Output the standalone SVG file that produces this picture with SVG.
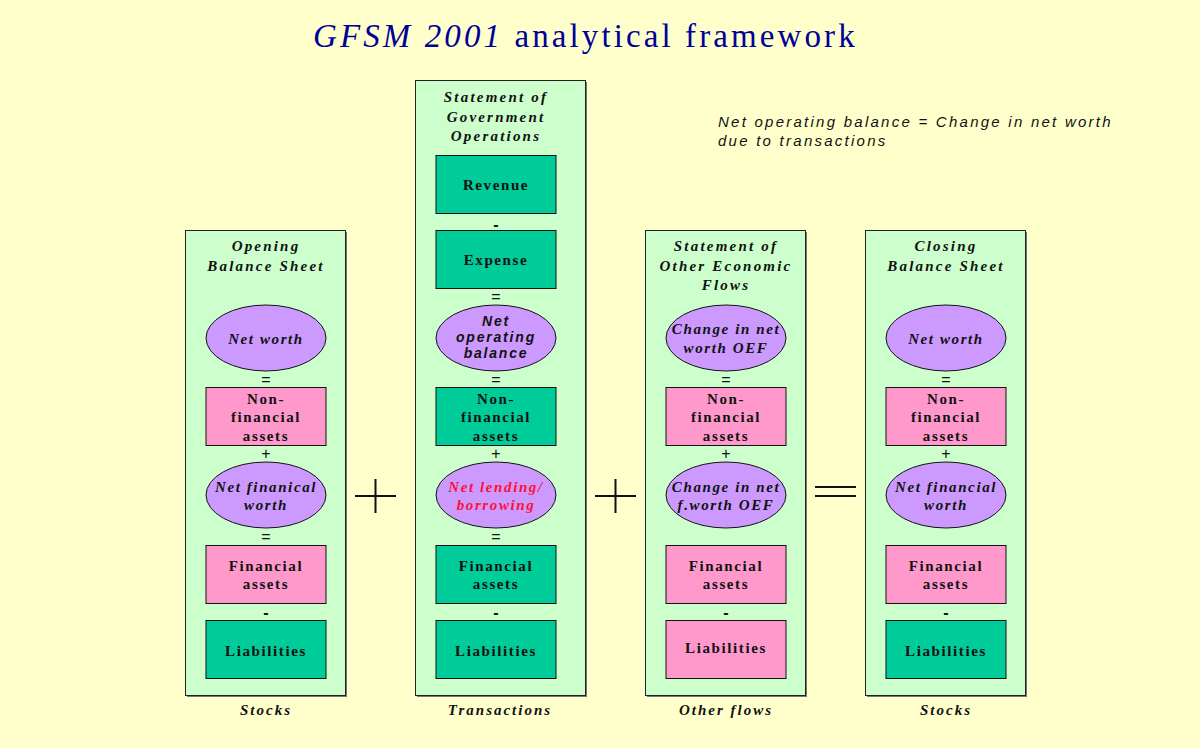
<svg xmlns="http://www.w3.org/2000/svg" width="1200" height="748" viewBox="0 0 1200 748">
<defs>
<style>
.bg{fill:#FFFFCC}
.col{fill:#CCFFCC;stroke:#222;stroke-width:1}
.shd{fill:#777}
.teal{fill:#00CC99;stroke:#111;stroke-width:1}
.pink{fill:#FF99CC;stroke:#111;stroke-width:1}
.ell{fill:#CC99FF;stroke:#111;stroke-width:1}
.ct{font-family:"Liberation Serif",serif;font-weight:bold;font-style:italic;font-size:15px;letter-spacing:2.2px;fill:#111;text-anchor:middle}
.bt{font-family:"Liberation Serif",serif;font-weight:bold;font-size:15px;letter-spacing:1.6px;fill:#111;text-anchor:middle}
.et{font-family:"Liberation Serif",serif;font-weight:bold;font-style:italic;font-size:15px;letter-spacing:1.6px;fill:#111;text-anchor:middle}
.es{font-family:"Liberation Sans",sans-serif;font-weight:bold;font-style:italic;font-size:14px;letter-spacing:1.8px;fill:#111;text-anchor:middle}
.red{fill:#FF1133}
.op{font-family:"Liberation Sans",sans-serif;font-size:16px;fill:#111;text-anchor:middle}
.ft{font-family:"Liberation Serif",serif;font-weight:bold;font-style:italic;font-size:15px;letter-spacing:2px;fill:#111;text-anchor:middle}
.big{stroke:#111;stroke-width:2;fill:none}
</style>
</defs>
<rect class="bg" x="0" y="0" width="1200" height="748"/>
<text x="313" y="47" font-family="Liberation Serif, serif" font-size="33" letter-spacing="3.1" fill="#000099"><tspan font-style="italic">GFSM 2001</tspan> analytical framework</text>
<text font-family="Liberation Sans, sans-serif" font-style="italic" font-size="15" letter-spacing="2.25" fill="#111"><tspan x="718" y="127">Net operating balance = Change in net worth</tspan><tspan x="718" y="146">due to transactions</tspan></text>

<g id="col-opening">
<rect class="shd" x="187" y="232" width="160" height="465"/>
<rect class="col" x="185.5" y="230.5" width="160" height="465"/>
<text class="ct"><tspan x="266" y="251">Opening</tspan><tspan x="266" y="271">Balance Sheet</tspan></text>
<g id="o-networth"><ellipse class="ell" cx="266" cy="338" rx="60" ry="33"/><text class="et" x="266" y="344">Net worth</text></g>
<text class="op" x="266" y="385">=</text>
<g id="o-nfa"><rect class="pink" x="206" y="387.5" width="120" height="58"/><text class="bt"><tspan x="266" y="404">Non-</tspan><tspan x="266" y="422">financial</tspan><tspan x="266" y="441">assets</tspan></text></g>
<text class="op" x="266" y="459">+</text>
<g id="o-nfw"><ellipse class="ell" cx="266" cy="495" rx="60" ry="33"/><text class="et"><tspan x="266" y="492">Net finanical</tspan><tspan x="266" y="510">worth</tspan></text></g>
<text class="op" x="266" y="542">=</text>
<g id="o-fa"><rect class="pink" x="206" y="545.5" width="120" height="58"/><text class="bt"><tspan x="266" y="571">Financial</tspan><tspan x="266" y="589">assets</tspan></text></g>
<text class="op" x="266" y="618" font-weight="bold">-</text>
<g id="o-liab"><rect class="teal" x="206" y="620.5" width="120" height="58"/><text class="bt" x="266" y="656">Liabilities</text></g>
<text class="ft" x="266" y="715">Stocks</text>
</g>

<g id="col-transactions">
<rect class="shd" x="417" y="82" width="170" height="615"/>
<rect class="col" x="415.5" y="80.5" width="170" height="615"/>
<text class="ct"><tspan x="496" y="102">Statement of</tspan><tspan x="496" y="122">Government</tspan><tspan x="496" y="141">Operations</tspan></text>
<g id="t-rev"><rect class="teal" x="436" y="155.5" width="120" height="58"/><text class="bt" x="496" y="190">Revenue</text></g>
<text class="op" x="496" y="230" font-weight="bold">-</text>
<g id="t-exp"><rect class="teal" x="436" y="230.5" width="120" height="58"/><text class="bt" x="496" y="265">Expense</text></g>
<text class="op" x="496" y="302">=</text>
<g id="t-nob"><ellipse class="ell" cx="496" cy="338" rx="60" ry="33"/><text class="es"><tspan x="496" y="326">Net</tspan><tspan x="496" y="342">operating</tspan><tspan x="496" y="358">balance</tspan></text></g>
<text class="op" x="496" y="385">=</text>
<g id="t-nfa"><rect class="teal" x="436" y="387.5" width="120" height="58"/><text class="bt"><tspan x="496" y="404">Non-</tspan><tspan x="496" y="422">financial</tspan><tspan x="496" y="441">assets</tspan></text></g>
<text class="op" x="496" y="459">+</text>
<g id="t-nlb"><ellipse class="ell" cx="496" cy="495" rx="60" ry="33"/><text class="et red"><tspan x="496" y="492">Net lending/</tspan><tspan x="496" y="510">borrowing</tspan></text></g>
<text class="op" x="496" y="542">=</text>
<g id="t-fa"><rect class="teal" x="436" y="545.5" width="120" height="58"/><text class="bt"><tspan x="496" y="571">Financial</tspan><tspan x="496" y="589">assets</tspan></text></g>
<text class="op" x="496" y="618" font-weight="bold">-</text>
<g id="t-liab"><rect class="teal" x="436" y="620.5" width="120" height="58"/><text class="bt" x="496" y="656">Liabilities</text></g>
<text class="ft" x="500" y="715">Transactions</text>
</g>

<g id="col-oef">
<rect class="shd" x="647" y="232" width="160" height="465"/>
<rect class="col" x="645.5" y="230.5" width="160" height="465"/>
<text class="ct"><tspan x="726" y="251">Statement of</tspan><tspan x="726" y="271">Other Economic</tspan><tspan x="726" y="290">Flows</tspan></text>
<g id="f-cnw"><ellipse class="ell" cx="726" cy="338" rx="60" ry="33"/><text class="et"><tspan x="726" y="334">Change in net</tspan><tspan x="726" y="353">worth OEF</tspan></text></g>
<text class="op" x="726" y="385">=</text>
<g id="f-nfa"><rect class="pink" x="666" y="387.5" width="120" height="58"/><text class="bt"><tspan x="726" y="404">Non-</tspan><tspan x="726" y="422">financial</tspan><tspan x="726" y="441">assets</tspan></text></g>
<text class="op" x="726" y="459">+</text>
<g id="f-cnfw"><ellipse class="ell" cx="726" cy="495" rx="60" ry="33"/><text class="et"><tspan x="726" y="492">Change in net</tspan><tspan x="726" y="510">f.worth OEF</tspan></text></g>
<g id="f-fa"><rect class="pink" x="666" y="545.5" width="120" height="58"/><text class="bt"><tspan x="726" y="571">Financial</tspan><tspan x="726" y="589">assets</tspan></text></g>
<text class="op" x="726" y="618" font-weight="bold">-</text>
<g id="f-liab"><rect class="pink" x="666" y="620.5" width="120" height="58"/><text class="bt" x="726" y="653">Liabilities</text></g>
<text class="ft" x="726" y="715">Other flows</text>
</g>

<g id="col-closing">
<rect class="shd" x="867" y="232" width="160" height="465"/>
<rect class="col" x="865.5" y="230.5" width="160" height="465"/>
<text class="ct"><tspan x="946" y="251">Closing</tspan><tspan x="946" y="271">Balance Sheet</tspan></text>
<g id="c-networth"><ellipse class="ell" cx="946" cy="338" rx="60" ry="33"/><text class="et" x="946" y="344">Net worth</text></g>
<text class="op" x="946" y="385">=</text>
<g id="c-nfa"><rect class="pink" x="886" y="387.5" width="120" height="58"/><text class="bt"><tspan x="946" y="404">Non-</tspan><tspan x="946" y="422">financial</tspan><tspan x="946" y="441">assets</tspan></text></g>
<text class="op" x="946" y="459">+</text>
<g id="c-nfw"><ellipse class="ell" cx="946" cy="495" rx="60" ry="33"/><text class="et"><tspan x="946" y="492">Net financial</tspan><tspan x="946" y="510">worth</tspan></text></g>
<g id="c-fa"><rect class="pink" x="886" y="545.5" width="120" height="58"/><text class="bt"><tspan x="946" y="571">Financial</tspan><tspan x="946" y="589">assets</tspan></text></g>
<text class="op" x="946" y="618" font-weight="bold">-</text>
<g id="c-liab"><rect class="teal" x="886" y="620.5" width="120" height="58"/><text class="bt" x="946" y="656">Liabilities</text></g>
<text class="ft" x="946" y="715">Stocks</text>
</g>

<g id="connectors">
<path class="big" d="M355 496H396M375.5 479V513"/>
<path class="big" d="M595 496H636M615.5 479V513"/>
<path class="big" d="M815 487H856M815 496H856"/>
</g>
</svg>
